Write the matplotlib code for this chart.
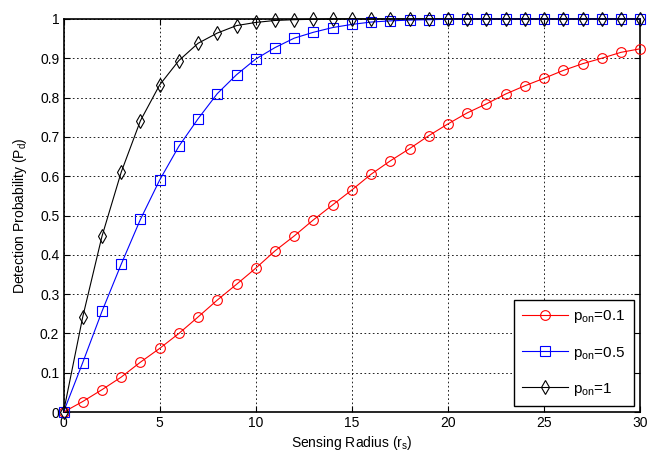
import numpy as np
import matplotlib
matplotlib.use("Agg")
from matplotlib import pyplot as plt

plt.rcParams['font.family'] = ['Liberation Sans', 'DejaVu Sans']
plt.rcParams['mathtext.default'] = 'regular'
plt.rcParams['font.size'] = 10

radius = list(range(0, 31))

# detection probability for each p_on
pd_01 = [0.0, 0.027, 0.057, 0.089, 0.127, 0.162, 0.200, 0.242, 0.285, 0.325,
         0.366, 0.410, 0.448, 0.489, 0.527, 0.565, 0.605, 0.639, 0.670, 0.703,
         0.733, 0.761, 0.784, 0.809, 0.830, 0.849, 0.869, 0.886, 0.900, 0.915,
         0.924]
pd_05 = [0.0, 0.126, 0.256, 0.376, 0.490, 0.590, 0.676, 0.746, 0.810, 0.858,
         0.898, 0.927, 0.951, 0.966, 0.978, 0.986, 0.992, 0.995, 0.997, 0.998,
         0.999, 1.0, 1.0, 1.0, 1.0, 1.0, 1.0, 1.0, 1.0, 1.0,
         1.0]
pd_1 = [0.0, 0.242, 0.447, 0.610, 0.741, 0.832, 0.894, 0.938, 0.964, 0.983,
        0.991, 0.996, 0.998, 0.999, 1.0, 1.0, 1.0, 1.0, 1.0, 1.0,
        1.0, 1.0, 1.0, 1.0, 1.0, 1.0, 1.0, 1.0, 1.0, 1.0,
        1.0]

fig = plt.figure(figsize=(6.48, 4.61), dpi=100)
ax = fig.add_axes([0.098, 0.106, 0.89, 0.853])

ax.plot(radius, pd_01, color='red', marker='o', mfc='none', ms=7, lw=0.8,
        mew=0.8, label='p$_{on}$=0.1', clip_on=False, zorder=3)
ax.plot(radius, pd_05, color='blue', marker='s', mfc='none', ms=7, lw=0.8,
        mew=0.8, label='p$_{on}$=0.5', clip_on=False, zorder=3)
ax.plot(radius, pd_1, color='black', marker='d', mfc='none', ms=7, lw=0.8,
        mew=0.8, label='p$_{on}$=1', clip_on=False, zorder=3)

ax.set_xlim(0, 30)
ax.set_ylim(0, 1)
ax.set_xticks(range(0, 31, 5))
ax.set_yticks(np.arange(0, 1.01, 0.1))
ax.set_yticklabels(['0', '0.1', '0.2', '0.3', '0.4', '0.5', '0.6', '0.7', '0.8', '0.9', '1'])
ax.tick_params(direction='in', top=True, right=True, length=4, pad=3, labelsize=10)
ax.grid(True, color='black', linestyle=(0, (2, 3)), linewidth=0.6)
for s in ax.spines.values():
    s.set_linewidth(1.2)

ax.set_xlabel('Sensing Radius (r$_s$)', fontsize=10, labelpad=3)
ax.set_ylabel('Detection Probability (P$_d$)', fontsize=10, labelpad=8)

leg = ax.legend(loc='lower right', fancybox=False, framealpha=1,
                edgecolor='black', fontsize=11, handlelength=3.0,
                handletextpad=0.35, borderpad=0.55, labelspacing=1.25,
                borderaxespad=0.4)
leg.get_frame().set_linewidth(1.0)

fig.savefig('out.png', dpi=100)
